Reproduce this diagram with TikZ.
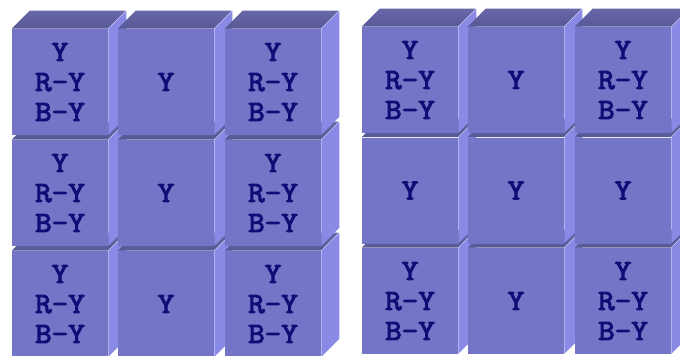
\documentclass[tikz,border=0pt]{standalone}
\usepackage{fontspec}
\setmonofont{Latin Modern Mono}[BoldFont={Latin Modern Mono},BoldFeatures={FakeBold=3.5,FakeStretch=1.1}]
\definecolor{frontc}{RGB}{117,117,200}
\definecolor{sidec}{RGB}{138,138,230}
\definecolor{topback}{RGB}{104,104,168}
\definecolor{topfront}{RGB}{88,88,150}
\definecolor{txtc}{RGB}{14,14,118}
\newcommand{\mycube}[4]{%
  \node[front] (#3) at (#1+48,#2+53) {#4};
  \shade[top color=topback, bottom color=topfront] (#3.north west) -- ++(18,-18) -- ++(96,0) -- ++(-18,18) -- cycle;
  \fill[sidec] (#3.north east) -- ++(18,-18) -- ++(0,106) -- ++(-18,18) -- cycle;
}
\newcommand{\yrb}{Y\\R-Y\\B-Y}
\begin{document}
\begin{tikzpicture}[x=0.75pt,y=-0.75pt,
  front/.style={fill=frontc, draw=none, minimum width=72pt, minimum height=79.5pt,
    inner sep=0pt, align=center, text=txtc,
    font=\ttfamily\bfseries\fontsize{22}{22.5}\selectfont}]
\useasboundingbox (0,0) rectangle (680,356);
\clip (0,0) rectangle (680,356);
\fill[white] (0,0) rectangle (680,356);
% left grid: columns left to right, rows bottom to top
\mycube{12}{251}{La3}{\yrb}
\mycube{12}{140}{La2}{\yrb}
\mycube{12}{29}{La1}{\yrb}
\mycube{118}{251}{Lb3}{Y}
\mycube{118}{140}{Lb2}{Y}
\mycube{118}{29}{Lb1}{Y}
\mycube{225}{251}{Lc3}{\yrb}
\mycube{225}{140}{Lc2}{\yrb}
\mycube{225}{29}{Lc1}{\yrb}
% right grid
\mycube{362}{248}{Ra3}{\yrb}
\mycube{362}{137.5}{Ra2}{Y}
\mycube{362}{27}{Ra1}{\yrb}
\mycube{468}{248}{Rb3}{Y}
\mycube{468}{137.5}{Rb2}{Y}
\mycube{468}{27}{Rb1}{Y}
\mycube{575}{248}{Rc3}{\yrb}
\mycube{575}{137.5}{Rc2}{Y}
\mycube{575}{27}{Rc1}{\yrb}
\end{tikzpicture}
\end{document}
